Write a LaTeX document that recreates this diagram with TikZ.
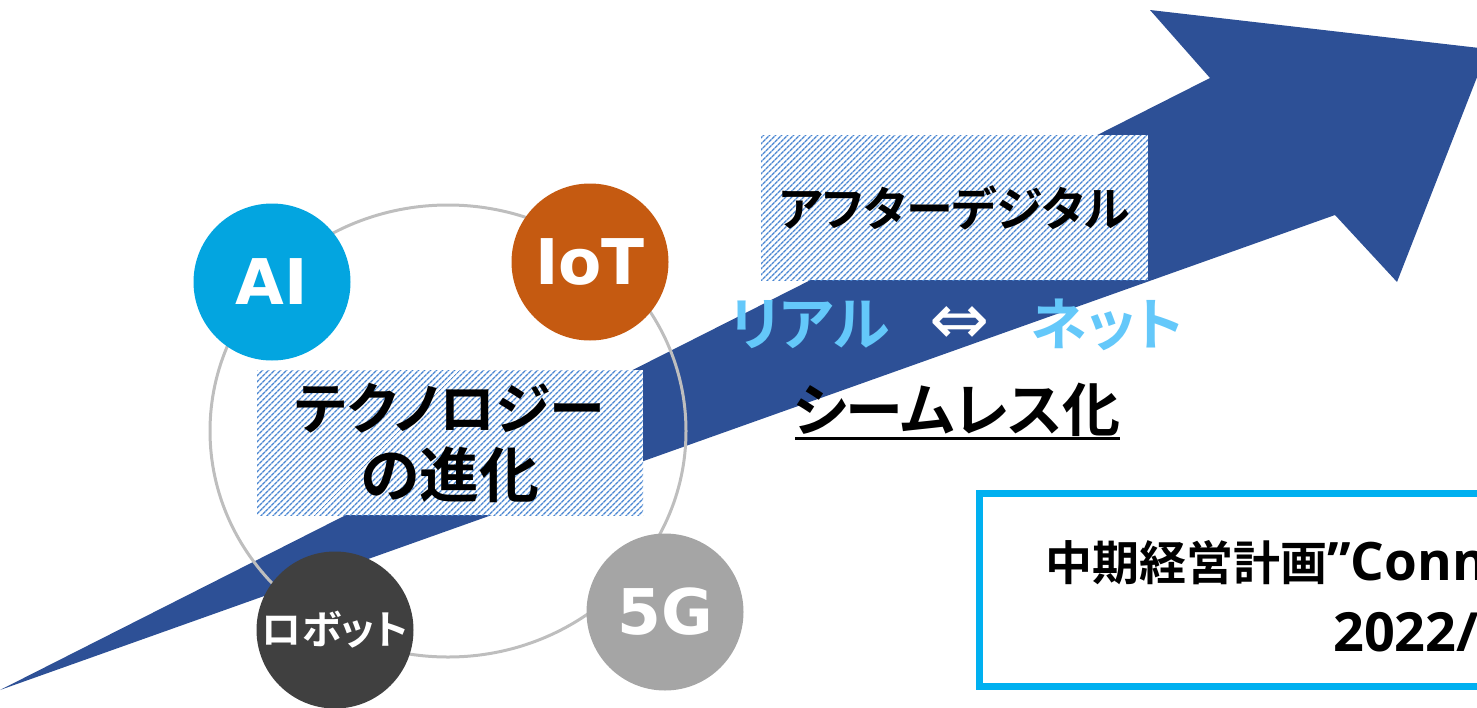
\documentclass[tikz,border=0pt]{standalone}
\usepackage{fontspec}
\usepackage{xcolor}
\usepackage{tikz}
\usetikzlibrary{patterns.meta}
\newfontfamily\jpfont{Noto Sans CJK JP}[RawFeature=+palt, BoldFont={Noto Sans CJK JP Bold}]
\newfontfamily\techfont{DejaVu Sans}
\newfontfamily\planfont{Open Sans}
\definecolor{arrowblue}{RGB}{45,80,150}
\definecolor{aiblue}{RGB}{3,165,224}
\definecolor{iotorange}{RGB}{197,90,17}
\definecolor{robotgray}{RGB}{64,64,64}
\definecolor{fivegray}{RGB}{165,165,165}
\definecolor{ringgray}{RGB}{190,190,190}
\definecolor{realblue}{RGB}{100,200,250}
\definecolor{boxcyan}{RGB}{0,176,240}
\definecolor{hatchblue}{RGB}{75,135,210}
\newcommand{\jpsize}[1]{\jpfont\bfseries\fontsize{#1}{68}\selectfont}
\tikzset{
	techcircle/.style={circle, minimum size=157pt, inner sep=0pt, text=white, font=\techfont\bfseries\fontsize{63}{63}\selectfont},
	jptext/.style={inner sep=0pt, align=center, font=\jpsize{57}},
	hatchbox/.style={jptext, fill=white, postaction={pattern={Lines[angle=45, distance=4pt, line width=1.4pt]}, pattern color=hatchblue}},
}

\begin{document}
\begin{tikzpicture}[x=1pt, y=-1pt]
	\useasboundingbox (0,0) rectangle (1477,707);
	\begin{scope}
		\clip (0,0) rectangle (1477,707);
		\fill[arrowblue] (0,690) -- (1335,215) -- (1397,282) -- (1488,49) -- (1150,10) -- (1210,78) -- cycle;
		\draw[ringgray, line width=3pt] (448,431) ellipse [x radius=238, y radius=226];
		\node[techcircle, fill=aiblue] (ai) at (272,282) {AI};
		\node[techcircle, fill=iotorange] (iot) at (590,262) {IoT};
		\node[techcircle, fill=robotgray, font=\jpsize{40}] (robot) at (335,630) {ロボット};
		\node[techcircle, fill=fivegray] (fiveg) at (665,612) {5G};
		\node[hatchbox, minimum width=386pt, minimum height=145pt] (tech) at (450,442.5) {{\jpsize{56}テクノロジー}\\{\jpsize{60}の進化}};
		\node[hatchbox, minimum width=387pt, minimum height=145pt, font=\jpsize{47}] (after) at (954.5,207.5) {アフターデジタル};
		\node[jptext, text=realblue, font=\jpsize{58}] (real) at (810,325) {リアル};
		\node[inner sep=0pt, text=white, font=\techfont\fontsize{72}{72}\selectfont] (swap) at (960,326) {⇔};
		\node[jptext, text=realblue] (net) at (1107,325) {ネット};
		\node[jptext, font=\jpsize{58}] (seamless) at (957,410) {シームレス化};
		\draw[line width=3pt] (795,438) -- (1120,438);
		\draw[boxcyan, line width=7pt] (979.5,493) rectangle (1500,686);
		\node[anchor=west, inner sep=0pt] (plan) at (1045,563) {\jpfont\bfseries\fontsize{47}{47}\selectfont 中期経営計画\planfont\fontsize{53}{53}\selectfont ”Conn};
		\node[anchor=west, inner sep=0pt, font=\planfont\bfseries\fontsize{54}{54}\selectfont] (year) at (1333,632) {2022/};
	\end{scope}
\end{tikzpicture}
\end{document}
